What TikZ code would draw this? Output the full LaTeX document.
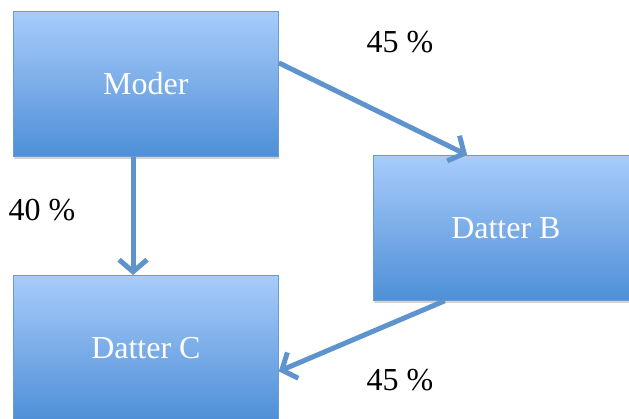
\documentclass[tikz,border=0pt]{standalone}
\usepackage{fontspec}
\setmainfont{Liberation Serif}
\usepackage{xcolor}
\usetikzlibrary{arrows.meta,shadows}

\definecolor{boxtop}{HTML}{A8CCFA}
\definecolor{boxbottom}{HTML}{4E8FD7}
\definecolor{boxline}{HTML}{6A9CD3}
\definecolor{arrowblue}{HTML}{5F93CE}

\begin{document}
\begin{tikzpicture}[x=1pt,y=1pt,
    company/.style={rectangle, anchor=north west, minimum width=265pt, minimum height=145pt,
        top color=boxtop, bottom color=boxbottom, draw=boxline, line width=0.8pt,
        drop shadow={opacity=0.35, shadow xshift=1pt, shadow yshift=-3pt},
        text=white, font=\fontsize{32}{38}\selectfont},
    share/.style={arrowblue, line width=5pt,
        -{Straight Barb[length=12pt,width=28pt,line width=5pt]}},
    pct/.style={font=\fontsize{32}{38}\selectfont}]
    \useasboundingbox (0,0) rectangle (629,-419);
    % the three companies
    \node[company] (Moder) at (13,-11) {Moder};
    \node[company] (DatterB) at (373,-155) {Datter B};
    \node[company] (DatterC) at (13,-275) {Datter C};
    % ownership
    \draw[share] (Moder.9) -- (DatterB.118);
    \draw[share] (Moder.260) -- (DatterC.100);
    \draw[share] (DatterB.230) -- (DatterC.350);
    \node[pct] (pctB) at (400,-42) {45 \%};
    \node[pct] (pctC) at (42,-210) {40 \%};
    \node[pct] (pctBC) at (400,-380) {45 \%};
\end{tikzpicture}
\end{document}
